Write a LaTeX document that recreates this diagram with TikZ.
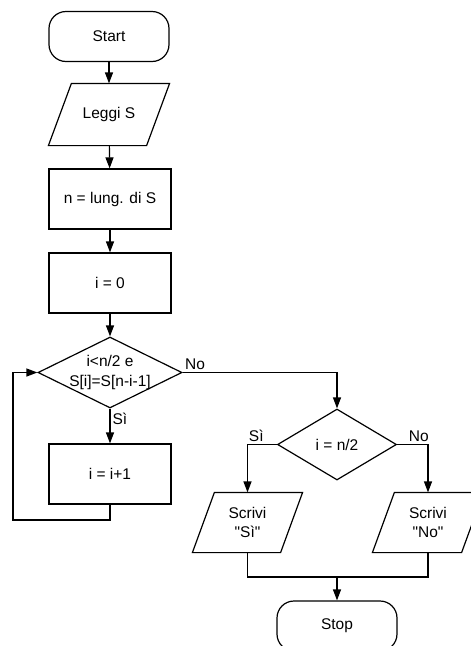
\documentclass[tikz,border=0pt]{standalone}
\usepackage{fontspec}
\newfontfamily\flowfont{Liberation Sans}
\usetikzlibrary{shapes.geometric,arrows.meta}
\begin{document}
\begin{tikzpicture}[x=1pt,y=-1pt,line width=1.2pt,
  every node/.style={font=\flowfont\fontsize{15.5}{19.5}\selectfont, inner sep=2pt},
  term/.style={draw, rectangle, rounded corners=17pt, minimum width=120pt, minimum height=50pt},
  io/.style={rectangle, align=center},
  proc/.style={draw, rectangle, minimum width=122pt, minimum height=60pt},
  dec/.style={draw, diamond, inner sep=0pt, align=center},
  arr/.style={-{Triangle[length=11pt,width=8pt]}},
  lbl/.style={inner sep=2pt}
]
\useasboundingbox (0,0) rectangle (471,646);

\node[term] (start) at (109,36.5) {Start};
\node[io, minimum width=97pt, minimum height=61pt] (read) at (109,114.5) {Leggi S};
\node[proc] (len) at (110,199) {n = lung. di S};
\node[proc] (init) at (110,283) {i = 0};
\node[dec, minimum width=144pt, minimum height=71pt] (cond) at (110,372.5)
  {\makebox[0pt]{i<n/2 e}\\\makebox[0pt]{S[i]=S[n-i-1]}};
\node[proc] (inc) at (110,474) {i = i+1};
\node[dec, minimum width=119pt, minimum height=71pt] (check) at (337,444.5) {\makebox[0pt]{i = n/2}};
\node[io, minimum width=87pt, minimum height=59pt] (outyes) at (247.5,522.5)
  {\makebox[0pt]{Scrivi}\\\makebox[0pt]{"Sì"}};
\node[io, minimum width=88pt, minimum height=59pt] (outno) at (428,522.5)
  {\makebox[0pt]{Scrivi}\\\makebox[0pt]{"No"}};
\node[term] (stop) at (337,626) {Stop};

% parallelogram outlines of the input/output nodes
\draw ([xshift=-11.5pt]read.south west) -- ([xshift=-11.5pt]read.south east)
  -- ([xshift=11.5pt]read.north east) -- ([xshift=11.5pt]read.north west) -- cycle;
\draw ([xshift=-11pt]outyes.south west) -- ([xshift=-11pt]outyes.south east)
  -- ([xshift=11pt]outyes.north east) -- ([xshift=11pt]outyes.north west) -- cycle;
\draw ([xshift=-11pt]outno.south west) -- ([xshift=-11pt]outno.south east)
  -- ([xshift=11pt]outno.north east) -- ([xshift=11pt]outno.north west) -- cycle;

\coordinate (loopc) at (13,520);
\coordinate (mergec) at (337,577);

\draw[arr] (start) -- (read);
\draw[arr] (read) -- (len);
\draw[arr] (len) -- (init);
\draw[arr] (init) -- (cond);
\draw[arr] (cond.south) -- node[pos=0.3, right, lbl] {Sì} (inc.north);
\draw[arr] (inc.south) |- (loopc) |- (cond.west);
\draw[arr] (cond.east) node[above right, lbl] {No} -| (check.north);
\draw[arr] (check.west) -| node[pos=0.35, above, lbl] {Sì} (outyes.north);
\draw[arr] (check.east) -| node[pos=0.35, above, lbl] {No} (outno.north);
\draw (outyes.south) |- (mergec);
\draw (outno.south) |- (mergec);
\draw[arr] (mergec) -- (stop.north);
\end{tikzpicture}
\end{document}
